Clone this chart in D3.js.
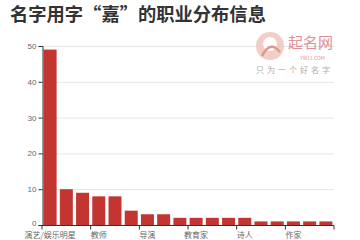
<!DOCTYPE html>
<html><head><meta charset="utf-8">
<script src="https://cdn.jsdelivr.net/npm/d3@7"></script>
<style>
html,body{margin:0;padding:0;background:#fff;}
svg{display:block;font-family:"Noto Sans CJK SC","Noto Sans",sans-serif;}
</style></head>
<body>
<svg id="c" width="360" height="240"></svg>
<script>
const title = "名字用字“嘉”的职业分布信息";
const categories = ["演艺/娱乐明星","歌手","运动员","教师","主持人","商人","导演","画家","科学家","教育家","政治家","医生","诗人","作曲家","模特","作家","书法家","记者"];
const values = [49,10,9,8,8,4,3,3,2,2,2,2,2,1,1,1,1,1];
const yTicks = [0,10,20,30,40,50];
const labelInterval = 3;

const svg = d3.select("#c");
const m = {left:42, right:26, top:46, bottom:15};
const W = 360, H = 240;
const x = d3.scaleBand().domain(categories).range([m.left, W - m.right]).paddingInner(0.2).paddingOuter(0.1);
const xb = d3.scaleBand().domain(categories).range([m.left, W - m.right]);
const y = d3.scaleLinear().domain([0,50]).range([H - m.bottom, m.top]);

svg.append("text").attr("x",10).attr("y",21).attr("font-size",18.3).attr("font-weight","bold")
  .attr("fill","#333").text(title);

// grid
svg.append("g").selectAll("line").data(yTicks.slice(1)).join("line")
  .attr("x1",m.left).attr("x2",W-m.right).attr("y1",d=>y(d)+0.5).attr("y2",d=>y(d)+0.5)
  .attr("stroke","#e6e6e6").attr("stroke-width",1);

// watermark
const wm = svg.append("g").attr("opacity",0.8);
wm.append("circle").attr("cx",270).attr("cy",46).attr("r",14).attr("fill","#f0c3b8");
wm.append("circle").attr("cx",270).attr("cy",44).attr("r",7).attr("fill","#fff");
wm.append("path").attr("d","M262,56 Q270,40 280,52").attr("stroke","#d9816f").attr("stroke-width",2.5).attr("fill","none");
wm.append("text").attr("x",288).attr("y",48).attr("font-size",15).attr("fill","#d9727e").text("起名网");
wm.append("text").attr("x",300).attr("y",60).attr("font-size",5).attr("fill","#d9727e").text("YW11.COM");
wm.append("text").attr("x",256).attr("y",73).attr("font-size",8).attr("fill","#999").attr("letter-spacing",3).text("只为一个好名字");

// bars
svg.append("g").selectAll("rect").data(values).join("rect")
  .attr("x",(d,i)=>x(categories[i])).attr("width",x.bandwidth())
  .attr("y",d=>y(d)).attr("height",d=>y(0)-y(d)).attr("fill","#c23531");

// y axis
const ya = d3.axisLeft(y).tickValues(yTicks).tickSize(4).tickPadding(2);
const gy = svg.append("g").attr("transform",`translate(${m.left+0.5},0)`).call(ya);
gy.selectAll("text").attr("font-size",8).attr("fill","#666");
gy.selectAll("path,line").attr("stroke","#333");
gy.selectAll(".tick").filter(d=>d===0).select("text").attr("dy","0.1em");

// x axis
const gx = svg.append("g").attr("transform",`translate(0,${y(0)+0.5})`);
gx.append("line").attr("x1",m.left).attr("x2",W-m.right).attr("stroke","#333");
const tickIdx = d3.range(0, categories.length+1, labelInterval);
gx.selectAll("line.t").data(tickIdx).join("line").attr("class","t")
  .attr("x1",i=> i<categories.length ? xb(categories[i]) : W-m.right)
  .attr("x2",i=> i<categories.length ? xb(categories[i]) : W-m.right)
  .attr("y1",0).attr("y2",4).attr("stroke","#333");
gx.selectAll("text").data(categories.filter((c,i)=>i%labelInterval===0)).join("text")
  .attr("x",d=>x(d)+x.bandwidth()/2).attr("y",12).attr("text-anchor","middle")
  .attr("font-size",8).attr("fill","#666").text(d=>d);
</script>
</body></html>
